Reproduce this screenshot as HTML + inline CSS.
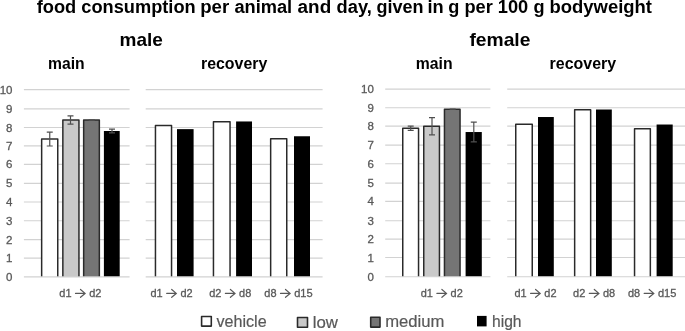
<!DOCTYPE html>
<html><head><meta charset="utf-8"><title>food consumption</title>
<style>html,body{margin:0;padding:0;background:#fff;}body{width:685px;height:331px;overflow:hidden;font-family:"Liberation Sans",sans-serif;}svg{display:block;}text{font-family:"Liberation Sans",sans-serif;}</style>
</head><body>
<svg width="685" height="331" viewBox="0 0 685 331">
<rect x="0" y="0" width="685" height="331" fill="#ffffff"/>
<defs><filter id="soft" x="-5%" y="-5%" width="110%" height="110%"><feGaussianBlur stdDeviation="0.42"/></filter></defs>
<g filter="url(#soft)">
<g stroke="#d2d2d2" stroke-width="1.15" fill="none">
<line x1="23.9" y1="258.15" x2="129.6" y2="258.15"/>
<line x1="23.9" y1="239.57" x2="129.6" y2="239.57"/>
<line x1="23.9" y1="220.70" x2="129.6" y2="220.70"/>
<line x1="23.9" y1="202.00" x2="129.6" y2="202.00"/>
<line x1="23.9" y1="183.40" x2="129.6" y2="183.40"/>
<line x1="23.9" y1="164.40" x2="129.6" y2="164.40"/>
<line x1="23.9" y1="145.80" x2="129.6" y2="145.80"/>
<line x1="23.9" y1="127.50" x2="129.6" y2="127.50"/>
<line x1="23.9" y1="108.82" x2="129.6" y2="108.82"/>
<line x1="23.9" y1="89.63" x2="129.6" y2="89.63"/>
<line x1="145.7" y1="258.15" x2="322.6" y2="258.15"/>
<line x1="145.7" y1="239.57" x2="322.6" y2="239.57"/>
<line x1="145.7" y1="220.70" x2="322.6" y2="220.70"/>
<line x1="145.7" y1="202.00" x2="322.6" y2="202.00"/>
<line x1="145.7" y1="183.40" x2="322.6" y2="183.40"/>
<line x1="145.7" y1="164.40" x2="322.6" y2="164.40"/>
<line x1="145.7" y1="145.80" x2="322.6" y2="145.80"/>
<line x1="145.7" y1="127.50" x2="322.6" y2="127.50"/>
<line x1="145.7" y1="108.82" x2="322.6" y2="108.82"/>
<line x1="145.7" y1="89.63" x2="322.6" y2="89.63"/>
</g>
<g stroke="#d2d2d2" stroke-width="1.15" fill="none">
<line x1="385.2" y1="257.46" x2="490.4" y2="257.46"/>
<line x1="385.2" y1="239.10" x2="490.4" y2="239.10"/>
<line x1="385.2" y1="220.70" x2="490.4" y2="220.70"/>
<line x1="385.2" y1="201.40" x2="490.4" y2="201.40"/>
<line x1="385.2" y1="183.05" x2="490.4" y2="183.05"/>
<line x1="385.2" y1="163.75" x2="490.4" y2="163.75"/>
<line x1="385.2" y1="145.18" x2="490.4" y2="145.18"/>
<line x1="385.2" y1="126.10" x2="490.4" y2="126.10"/>
<line x1="385.2" y1="107.70" x2="490.4" y2="107.70"/>
<line x1="385.2" y1="89.06" x2="490.4" y2="89.06"/>
<line x1="507.2" y1="257.46" x2="686.0" y2="257.46"/>
<line x1="507.2" y1="239.10" x2="686.0" y2="239.10"/>
<line x1="507.2" y1="220.70" x2="686.0" y2="220.70"/>
<line x1="507.2" y1="201.40" x2="686.0" y2="201.40"/>
<line x1="507.2" y1="183.05" x2="686.0" y2="183.05"/>
<line x1="507.2" y1="163.75" x2="686.0" y2="163.75"/>
<line x1="507.2" y1="145.18" x2="686.0" y2="145.18"/>
<line x1="507.2" y1="126.10" x2="686.0" y2="126.10"/>
<line x1="507.2" y1="107.70" x2="686.0" y2="107.70"/>
<line x1="507.2" y1="89.06" x2="686.0" y2="89.06"/>
</g>
<g font-size="11.5" fill="#595959" stroke="#595959" stroke-width="0.3" text-anchor="end">
<text x="12.5" y="281">0</text>
<text x="12.5" y="262">1</text>
<text x="12.5" y="244">2</text>
<text x="12.5" y="225">3</text>
<text x="12.5" y="206">4</text>
<text x="12.5" y="187">5</text>
<text x="12.5" y="168">6</text>
<text x="12.5" y="150">7</text>
<text x="12.5" y="132">8</text>
<text x="12.5" y="113">9</text>
<text x="12.5" y="94">10</text>
<text x="373.8" y="281">0</text>
<text x="373.8" y="262">1</text>
<text x="373.8" y="243">2</text>
<text x="373.8" y="225">3</text>
<text x="373.8" y="205">4</text>
<text x="373.8" y="187">5</text>
<text x="373.8" y="168">6</text>
<text x="373.8" y="149">7</text>
<text x="373.8" y="130">8</text>
<text x="373.8" y="112">9</text>
<text x="373.8" y="93">10</text>
</g>
<path d="M41.65 276.88V139.06H57.75V276.88" fill="#fff" stroke="#2c2c2c" stroke-width="1.5" stroke-linejoin="round"/>
<path d="M62.85 276.88V119.96H78.95V276.88" fill="#c9c9c9" stroke="#2c2c2c" stroke-width="1.5" stroke-linejoin="round"/>
<path d="M83.65 276.88V119.96H99.35V276.88" fill="#757575" stroke="#2c2c2c" stroke-width="1.5" stroke-linejoin="round"/>
<rect x="103.90" y="131.01" width="15.80" height="145.87" fill="#000"/>
<path d="M49.75 132.14V145.99M46.75 132.14H52.75M46.75 145.99H52.75" stroke="#505050" stroke-width="1.2" fill="none"/>
<path d="M70.50 115.84V124.08M67.50 115.84H73.50M67.50 124.08H73.50" stroke="#505050" stroke-width="1.2" fill="none"/>
<path d="M91.70 119.89V120.04M88.70 119.89H94.70M88.70 120.04H94.70" stroke="#505050" stroke-width="1.2" fill="none"/>
<path d="M112.00 129.14V132.88M109.00 129.14H115.00M109.00 132.88H115.00" stroke="#505050" stroke-width="1.2" fill="none"/>
<path d="M155.45 276.88V125.58H171.55V276.88" fill="#fff" stroke="#2c2c2c" stroke-width="1.5" stroke-linejoin="round"/>
<rect x="177.00" y="129.14" width="16.60" height="147.74" fill="#000"/>
<path d="M213.45 276.88V121.65H230.05V276.88" fill="#fff" stroke="#2c2c2c" stroke-width="1.5" stroke-linejoin="round"/>
<rect x="236.10" y="121.46" width="15.90" height="155.42" fill="#000"/>
<path d="M270.65 276.88V138.69H286.75V276.88" fill="#fff" stroke="#2c2c2c" stroke-width="1.5" stroke-linejoin="round"/>
<rect x="294.00" y="136.26" width="16.00" height="140.62" fill="#000"/>
<path d="M402.75 276.70V128.28H418.55V276.70" fill="#fff" stroke="#2c2c2c" stroke-width="1.5" stroke-linejoin="round"/>
<path d="M423.75 276.70V126.21H439.45V276.70" fill="#c9c9c9" stroke="#2c2c2c" stroke-width="1.5" stroke-linejoin="round"/>
<path d="M444.45 276.70V109.14H460.05V276.70" fill="#757575" stroke="#2c2c2c" stroke-width="1.5" stroke-linejoin="round"/>
<rect x="465.60" y="132.03" width="16.20" height="144.67" fill="#000"/>
<path d="M410.70 126.21V130.34M407.70 126.21H413.70M407.70 130.34H413.70" stroke="#505050" stroke-width="1.2" fill="none"/>
<path d="M432.00 117.58V134.84M429.00 117.58H435.00M429.00 134.84H435.00" stroke="#505050" stroke-width="1.2" fill="none"/>
<path d="M452.70 109.06V109.21M449.70 109.06H455.70M449.70 109.21H455.70" stroke="#505050" stroke-width="1.2" fill="none"/>
<path d="M473.80 122.08V141.97M470.80 122.08H476.80M470.80 141.97H476.80" stroke="#505050" stroke-width="1.2" fill="none"/>
<path d="M515.75 276.70V124.34H532.25V276.70" fill="#fff" stroke="#2c2c2c" stroke-width="1.5" stroke-linejoin="round"/>
<rect x="538.00" y="117.02" width="15.80" height="159.68" fill="#000"/>
<path d="M574.65 276.70V109.70H590.65V276.70" fill="#fff" stroke="#2c2c2c" stroke-width="1.5" stroke-linejoin="round"/>
<rect x="596.00" y="109.51" width="15.80" height="167.19" fill="#000"/>
<path d="M634.55 276.70V128.65H650.35V276.70" fill="#fff" stroke="#2c2c2c" stroke-width="1.5" stroke-linejoin="round"/>
<rect x="656.60" y="124.52" width="16.10" height="152.18" fill="#000"/>
<g stroke="#d2d2d2" stroke-width="1.15" fill="none">
<line x1="23.9" y1="276.88" x2="129.6" y2="276.88"/>
<line x1="145.7" y1="276.88" x2="322.6" y2="276.88"/>
</g>
<g stroke="#d2d2d2" stroke-width="1.15" fill="none">
<line x1="385.2" y1="276.70" x2="490.4" y2="276.70"/>
<line x1="507.2" y1="276.70" x2="686.0" y2="276.70"/>
</g>
<text y="297" font-size="11" fill="#595959" stroke="#595959" stroke-width="0.3"><tspan x="59.3" textLength="12.2" lengthAdjust="spacingAndGlyphs">d1</tspan><tspan fill="none" stroke="none" font-size="6"> → </tspan><tspan x="89.2" textLength="12.2" lengthAdjust="spacingAndGlyphs">d2</tspan></text>
<path d="M75.50 293.40H85.10M80.50 289.50L85.10 293.40L80.50 297.30" fill="none" stroke="#595959" stroke-width="1.2" stroke-linecap="round" stroke-linejoin="miter"/>
<text y="297" font-size="11" fill="#595959" stroke="#595959" stroke-width="0.3"><tspan x="150.5" textLength="12.2" lengthAdjust="spacingAndGlyphs">d1</tspan><tspan fill="none" stroke="none" font-size="6"> → </tspan><tspan x="180.4" textLength="12.2" lengthAdjust="spacingAndGlyphs">d2</tspan></text>
<path d="M166.70 293.40H176.30M171.70 289.50L176.30 293.40L171.70 297.30" fill="none" stroke="#595959" stroke-width="1.2" stroke-linecap="round" stroke-linejoin="miter"/>
<text y="297" font-size="11" fill="#595959" stroke="#595959" stroke-width="0.3"><tspan x="209.2" textLength="12.2" lengthAdjust="spacingAndGlyphs">d2</tspan><tspan fill="none" stroke="none" font-size="6"> → </tspan><tspan x="239.1" textLength="12.2" lengthAdjust="spacingAndGlyphs">d8</tspan></text>
<path d="M225.40 293.40H235.00M230.40 289.50L235.00 293.40L230.40 297.30" fill="none" stroke="#595959" stroke-width="1.2" stroke-linecap="round" stroke-linejoin="miter"/>
<text y="297" font-size="11" fill="#595959" stroke="#595959" stroke-width="0.3"><tspan x="264.3" textLength="12.2" lengthAdjust="spacingAndGlyphs">d8</tspan><tspan fill="none" stroke="none" font-size="6"> → </tspan><tspan x="294.2" textLength="18.5" lengthAdjust="spacingAndGlyphs">d15</tspan></text>
<path d="M280.50 293.40H290.10M285.50 289.50L290.10 293.40L285.50 297.30" fill="none" stroke="#595959" stroke-width="1.2" stroke-linecap="round" stroke-linejoin="miter"/>
<text y="297" font-size="11" fill="#595959" stroke="#595959" stroke-width="0.3"><tspan x="420.7" textLength="12.2" lengthAdjust="spacingAndGlyphs">d1</tspan><tspan fill="none" stroke="none" font-size="6"> → </tspan><tspan x="450.6" textLength="12.2" lengthAdjust="spacingAndGlyphs">d2</tspan></text>
<path d="M436.90 293.40H446.50M441.90 289.50L446.50 293.40L441.90 297.30" fill="none" stroke="#595959" stroke-width="1.2" stroke-linecap="round" stroke-linejoin="miter"/>
<text y="297" font-size="11" fill="#595959" stroke="#595959" stroke-width="0.3"><tspan x="514.4" textLength="12.2" lengthAdjust="spacingAndGlyphs">d1</tspan><tspan fill="none" stroke="none" font-size="6"> → </tspan><tspan x="544.3" textLength="12.2" lengthAdjust="spacingAndGlyphs">d2</tspan></text>
<path d="M530.60 293.40H540.20M535.60 289.50L540.20 293.40L535.60 297.30" fill="none" stroke="#595959" stroke-width="1.2" stroke-linecap="round" stroke-linejoin="miter"/>
<text y="297" font-size="11" fill="#595959" stroke="#595959" stroke-width="0.3"><tspan x="573.1" textLength="12.2" lengthAdjust="spacingAndGlyphs">d2</tspan><tspan fill="none" stroke="none" font-size="6"> → </tspan><tspan x="603.0" textLength="12.2" lengthAdjust="spacingAndGlyphs">d8</tspan></text>
<path d="M589.30 293.40H598.90M594.30 289.50L598.90 293.40L594.30 297.30" fill="none" stroke="#595959" stroke-width="1.2" stroke-linecap="round" stroke-linejoin="miter"/>
<text y="297" font-size="11" fill="#595959" stroke="#595959" stroke-width="0.3"><tspan x="628.0" textLength="12.2" lengthAdjust="spacingAndGlyphs">d8</tspan><tspan fill="none" stroke="none" font-size="6"> → </tspan><tspan x="657.9" textLength="18.5" lengthAdjust="spacingAndGlyphs">d15</tspan></text>
<path d="M644.20 293.40H653.80M649.20 289.50L653.80 293.40L649.20 297.30" fill="none" stroke="#595959" stroke-width="1.2" stroke-linecap="round" stroke-linejoin="miter"/>
<text y="13" font-size="18" font-weight="bold" fill="#000"><tspan x="36.7" textLength="39.5" lengthAdjust="spacingAndGlyphs">food</tspan> <tspan x="81.3" textLength="114.4" lengthAdjust="spacingAndGlyphs">consumption</tspan> <tspan x="200.2" textLength="29.0" lengthAdjust="spacingAndGlyphs">per</tspan> <tspan x="234.4" textLength="57.8" lengthAdjust="spacingAndGlyphs">animal</tspan> <tspan x="297.6" textLength="33.6" lengthAdjust="spacingAndGlyphs">and</tspan> <tspan x="336.6" textLength="35.2" lengthAdjust="spacingAndGlyphs">day,</tspan> <tspan x="376.4" textLength="47.0" lengthAdjust="spacingAndGlyphs">given</tspan> <tspan x="427.4" textLength="16.2" lengthAdjust="spacingAndGlyphs">in</tspan> <tspan x="448.2" textLength="11.1" lengthAdjust="spacingAndGlyphs">g</tspan> <tspan x="464.4" textLength="28.4" lengthAdjust="spacingAndGlyphs">per</tspan> <tspan x="497.8" textLength="30.5" lengthAdjust="spacingAndGlyphs">100</tspan> <tspan x="533.4" textLength="11.1" lengthAdjust="spacingAndGlyphs">g</tspan> <tspan x="549.6" textLength="102.4" lengthAdjust="spacingAndGlyphs">bodyweight</tspan></text>
<text x="119.6" y="46" font-size="19" font-weight="bold" fill="#000" textLength="43.3" lengthAdjust="spacingAndGlyphs">male</text>
<text x="469.4" y="46" font-size="19" font-weight="bold" fill="#000" textLength="61.0" lengthAdjust="spacingAndGlyphs">female</text>
<text x="48.0" y="69" font-size="16.5" font-weight="bold" fill="#000" textLength="36.6" lengthAdjust="spacingAndGlyphs">main</text>
<text x="201.0" y="69" font-size="16.5" font-weight="bold" fill="#000" textLength="66.3" lengthAdjust="spacingAndGlyphs">recovery</text>
<text x="415.8" y="69" font-size="16.5" font-weight="bold" fill="#000" textLength="36.8" lengthAdjust="spacingAndGlyphs">main</text>
<text x="549.6" y="69" font-size="16.5" font-weight="bold" fill="#000" textLength="66.6" lengthAdjust="spacingAndGlyphs">recovery</text>
<rect x="201.60" y="316.50" width="9.70" height="9.60" fill="#fff" stroke="#2c2c2c" stroke-width="1.6" stroke-linejoin="round"/>
<text x="216.5" y="327" font-size="16" fill="#595959" stroke="#595959" stroke-width="0.2" textLength="50.1" lengthAdjust="spacingAndGlyphs">vehicle</text>
<rect x="297.50" y="317.50" width="10.00" height="9.80" fill="#c9c9c9" stroke="#2c2c2c" stroke-width="1.6" stroke-linejoin="round"/>
<text x="312.8" y="328" font-size="16" fill="#595959" stroke="#595959" stroke-width="0.2" textLength="25.2" lengthAdjust="spacingAndGlyphs">low</text>
<rect x="370.70" y="317.20" width="9.30" height="9.90" fill="#757575" stroke="#2c2c2c" stroke-width="1.6" stroke-linejoin="round"/>
<text x="385.2" y="327" font-size="16" fill="#595959" stroke="#595959" stroke-width="0.2" textLength="59.2" lengthAdjust="spacingAndGlyphs">medium</text>
<rect x="477.00" y="315.90" width="9.60" height="10.50" fill="#000"/>
<text x="492.0" y="327" font-size="16" fill="#595959" stroke="#595959" stroke-width="0.2" textLength="29.5" lengthAdjust="spacingAndGlyphs">high</text>
</g>
</svg>
</body></html>
